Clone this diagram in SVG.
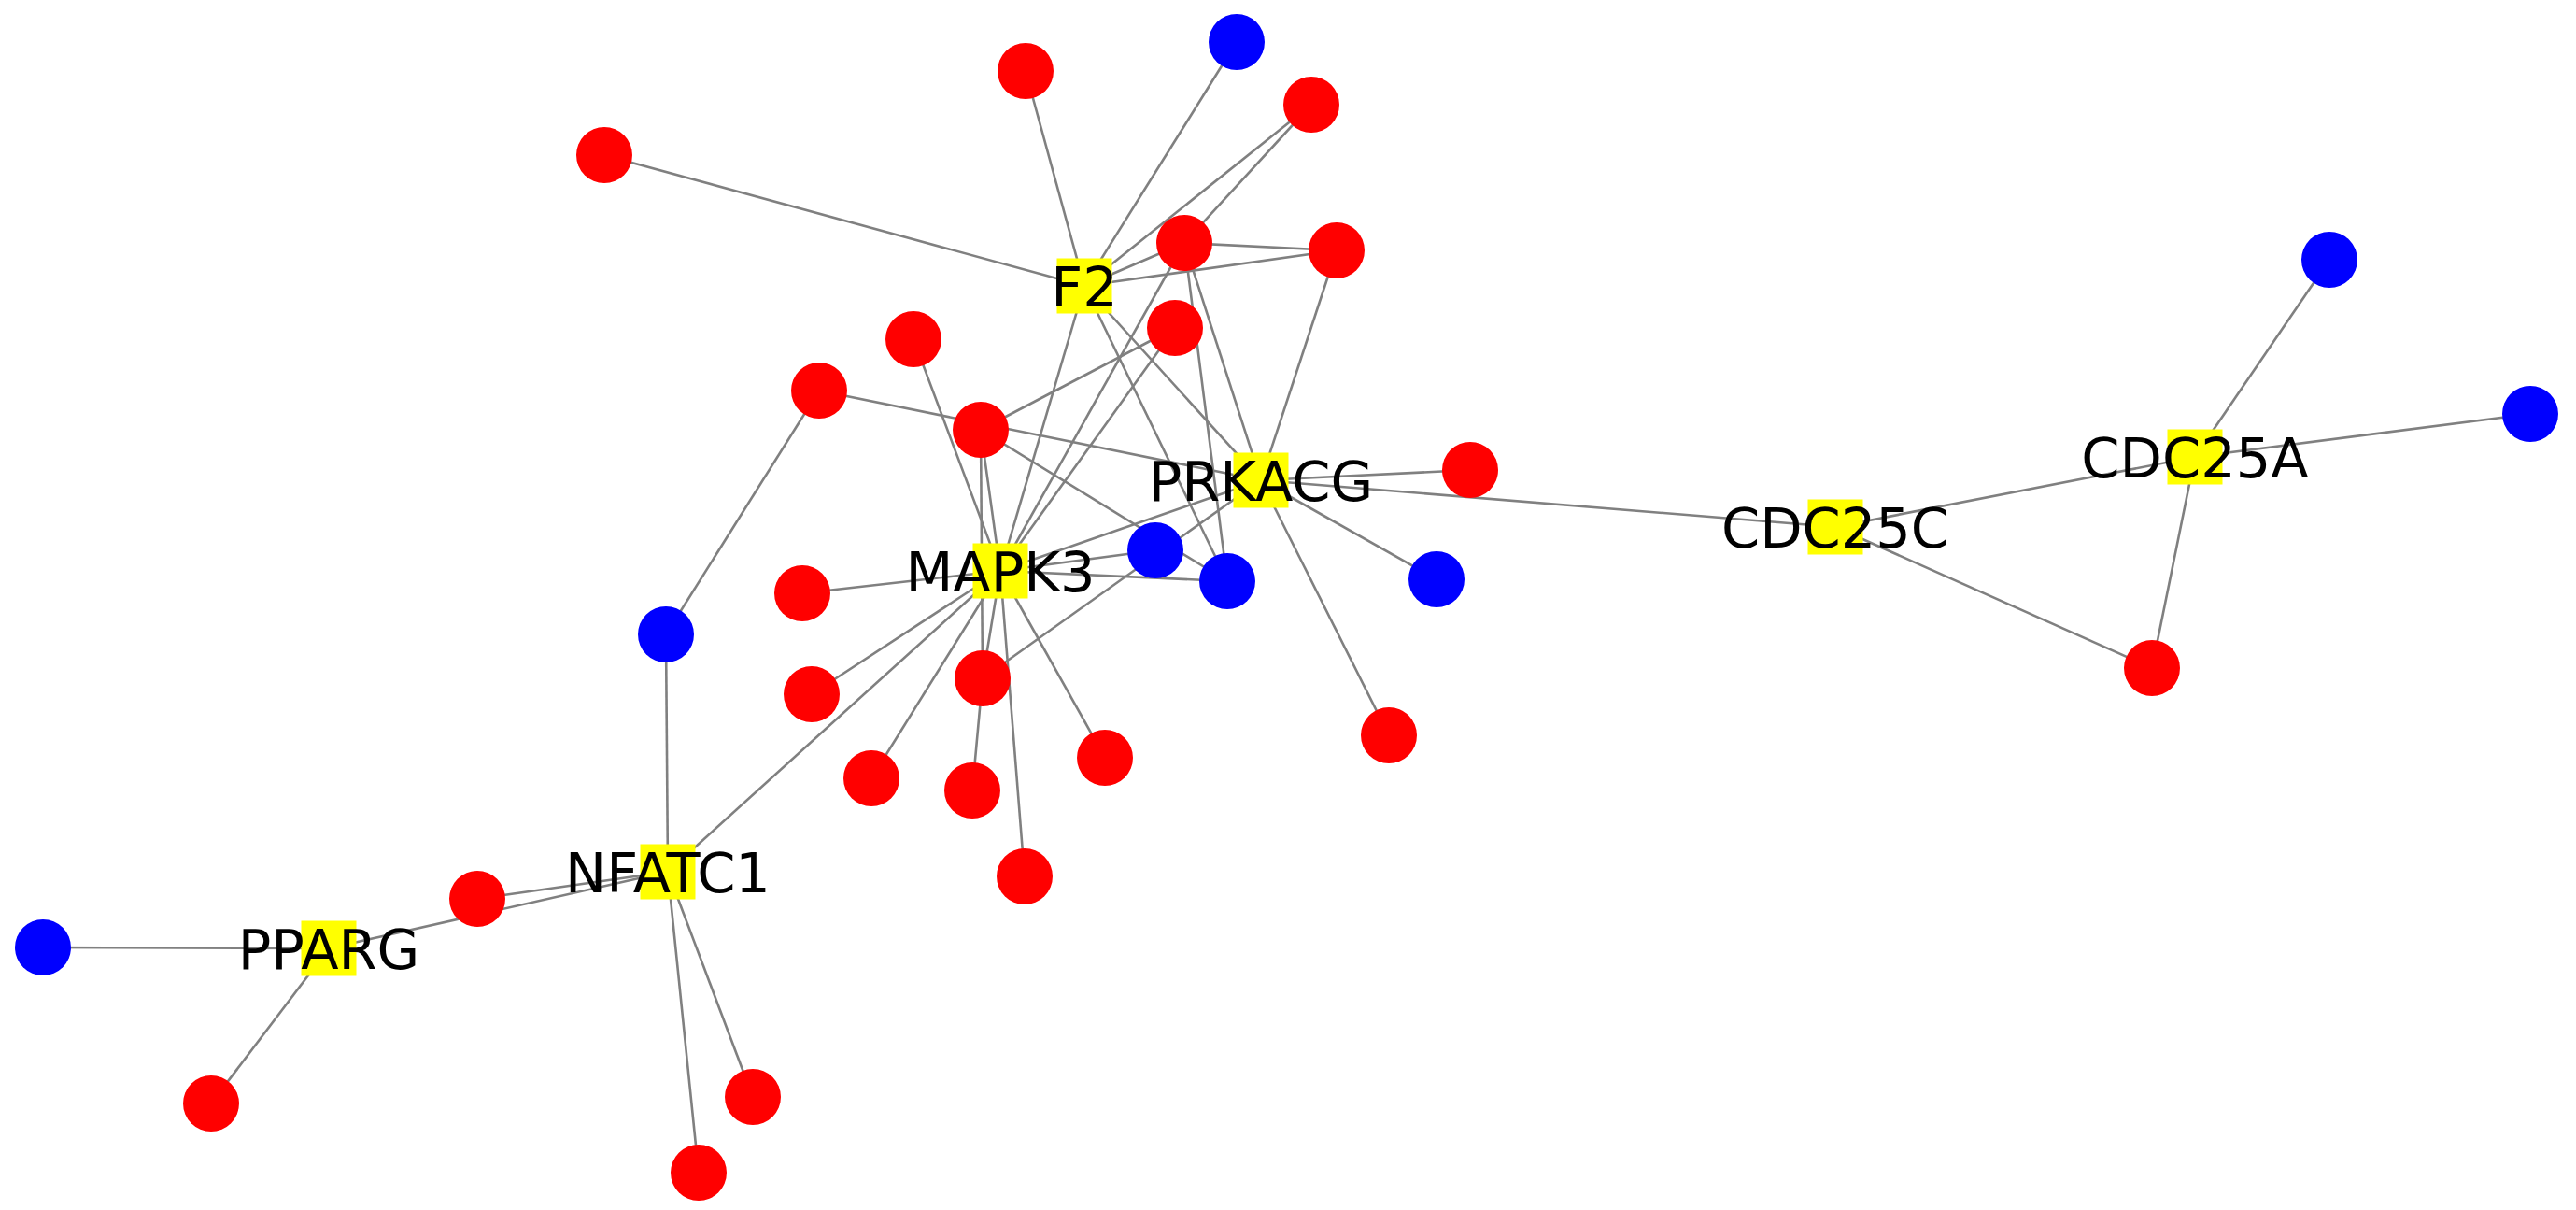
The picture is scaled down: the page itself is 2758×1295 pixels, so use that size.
<svg xmlns="http://www.w3.org/2000/svg" width="2758" height="1295" viewBox="0 0 2758 1295">
<style>
.e{stroke:#808080;stroke-width:2.6;fill:none}
.r{fill:#ff0000}
.b{fill:#0000ff}
.h{fill:#ffff00}
.t{font-family:"DejaVu Sans",sans-serif;font-size:59px;fill:#000;text-anchor:middle}
</style>
<rect width="2758" height="1295" fill="#ffffff"/>
<g id="edges" class="e">
<line x1="1161" y1="306" x2="647" y2="166"/>
<line x1="1161" y1="306" x2="1098" y2="76"/>
<line x1="1161" y1="306" x2="1324" y2="45"/>
<line x1="1161" y1="306" x2="1404" y2="112"/>
<line x1="1161" y1="306" x2="1268" y2="260"/>
<line x1="1161" y1="306" x2="1431" y2="268"/>
<line x1="1161" y1="306" x2="1071" y2="611"/>
<line x1="1161" y1="306" x2="1314" y2="622"/>
<line x1="1161" y1="306" x2="1350" y2="514"/>
<line x1="1404" y1="112" x2="1268" y2="260"/>
<line x1="1268" y1="260" x2="1431" y2="268"/>
<line x1="1268" y1="260" x2="1350" y2="514"/>
<line x1="1268" y1="260" x2="1314" y2="622"/>
<line x1="1268" y1="260" x2="1071" y2="611"/>
<line x1="1431" y1="268" x2="1350" y2="514"/>
<line x1="978" y1="363" x2="1071" y2="611"/>
<line x1="1258" y1="351" x2="1050" y2="460"/>
<line x1="1258" y1="351" x2="1071" y2="611"/>
<line x1="877" y1="418" x2="1350" y2="514"/>
<line x1="877" y1="418" x2="713" y2="679"/>
<line x1="1050" y1="460" x2="1071" y2="611"/>
<line x1="1050" y1="460" x2="1052" y2="726"/>
<line x1="1050" y1="460" x2="1314" y2="622"/>
<line x1="1071" y1="611" x2="859" y2="635"/>
<line x1="1071" y1="611" x2="869" y2="743"/>
<line x1="1071" y1="611" x2="933" y2="833"/>
<line x1="1071" y1="611" x2="1052" y2="726"/>
<line x1="1071" y1="611" x2="1183" y2="811"/>
<line x1="1071" y1="611" x2="1097" y2="938"/>
<line x1="1071" y1="611" x2="1237" y2="589"/>
<line x1="1071" y1="611" x2="1314" y2="622"/>
<line x1="1071" y1="611" x2="1350" y2="514"/>
<line x1="1071" y1="611" x2="715" y2="933"/>
<line x1="1052" y1="726" x2="1041" y2="846"/>
<line x1="1052" y1="726" x2="1350" y2="514"/>
<line x1="1350" y1="514" x2="1574" y2="503"/>
<line x1="1350" y1="514" x2="1965" y2="564"/>
<line x1="1350" y1="514" x2="1538" y2="620"/>
<line x1="1350" y1="514" x2="1487" y2="787"/>
<line x1="1965" y1="564" x2="2350" y2="489"/>
<line x1="1965" y1="564" x2="2304" y2="715"/>
<line x1="2350" y1="489" x2="2494" y2="278"/>
<line x1="2350" y1="489" x2="2709" y2="443"/>
<line x1="2350" y1="489" x2="2304" y2="715"/>
<line x1="715" y1="933" x2="713" y2="679"/>
<line x1="715" y1="933" x2="511" y2="962"/>
<line x1="715" y1="933" x2="352" y2="1015"/>
<line x1="715" y1="933" x2="806" y2="1174"/>
<line x1="715" y1="933" x2="748" y2="1255"/>
<line x1="352" y1="1015" x2="46" y2="1014"/>
<line x1="352" y1="1015" x2="226" y2="1181"/>
</g>
<g id="n-R1"><circle class="r" cx="1098" cy="76" r="30"/></g>
<g id="n-R2"><circle class="r" cx="1404" cy="112" r="30"/></g>
<g id="n-R3"><circle class="r" cx="647" cy="166" r="30"/></g>
<g id="n-R4"><circle class="r" cx="1268" cy="260" r="30"/></g>
<g id="n-R5"><circle class="r" cx="1431" cy="268" r="30"/></g>
<g id="n-R6"><circle class="r" cx="978" cy="363" r="30"/></g>
<g id="n-R7"><circle class="r" cx="1258" cy="351" r="30"/></g>
<g id="n-R8"><circle class="r" cx="877" cy="418" r="30"/></g>
<g id="n-R9"><circle class="r" cx="1050" cy="460" r="30"/></g>
<g id="n-R10"><circle class="r" cx="1574" cy="503" r="30"/></g>
<g id="n-R11"><circle class="r" cx="859" cy="635" r="30"/></g>
<g id="n-R12"><circle class="r" cx="869" cy="743" r="30"/></g>
<g id="n-R13"><circle class="r" cx="1052" cy="726" r="30"/></g>
<g id="n-R14"><circle class="r" cx="933" cy="833" r="30"/></g>
<g id="n-R15"><circle class="r" cx="1041" cy="846" r="30"/></g>
<g id="n-R16"><circle class="r" cx="1183" cy="811" r="30"/></g>
<g id="n-R17"><circle class="r" cx="1487" cy="787" r="30"/></g>
<g id="n-R18"><circle class="r" cx="1097" cy="938" r="30"/></g>
<g id="n-R19"><circle class="r" cx="2304" cy="715" r="30"/></g>
<g id="n-R20"><circle class="r" cx="511" cy="962" r="30"/></g>
<g id="n-R21"><circle class="r" cx="226" cy="1181" r="30"/></g>
<g id="n-R22"><circle class="r" cx="806" cy="1174" r="30"/></g>
<g id="n-R23"><circle class="r" cx="748" cy="1255" r="30"/></g>
<g id="n-B1"><circle class="b" cx="1324" cy="45" r="30"/></g>
<g id="n-B2"><circle class="b" cx="713" cy="679" r="30"/></g>
<g id="n-B3"><circle class="b" cx="1237" cy="589" r="30"/></g>
<g id="n-B4"><circle class="b" cx="1314" cy="622" r="30"/></g>
<g id="n-B5"><circle class="b" cx="1538" cy="620" r="30"/></g>
<g id="n-B6"><circle class="b" cx="2494" cy="278" r="30"/></g>
<g id="n-B7"><circle class="b" cx="2709" cy="443" r="30"/></g>
<g id="n-B8"><circle class="b" cx="46" cy="1014" r="30"/></g>
<g id="n-F2"><rect class="h" x="1131.5" y="276.5" width="59" height="59"/><text class="t" x="1161" y="327.5">F2</text></g>
<g id="n-PRKACG"><rect class="h" x="1320.5" y="484.5" width="59" height="59"/><text class="t" x="1350" y="535.5">PRKACG</text></g>
<g id="n-MAPK3"><rect class="h" x="1041.5" y="581.5" width="59" height="59"/><text class="t" x="1071" y="632.5">MAPK3</text></g>
<g id="n-CDC25C"><rect class="h" x="1935.5" y="534.5" width="59" height="59"/><text class="t" x="1965" y="585.5">CDC25C</text></g>
<g id="n-CDC25A"><rect class="h" x="2320.5" y="459.5" width="59" height="59"/><text class="t" x="2350" y="510.5">CDC25A</text></g>
<g id="n-NFATC1"><rect class="h" x="685.5" y="903.5" width="59" height="59"/><text class="t" x="715" y="954.5">NFATC1</text></g>
<g id="n-PPARG"><rect class="h" x="322.5" y="985.5" width="59" height="59"/><text class="t" x="352" y="1036.5">PPARG</text></g>
</svg>
